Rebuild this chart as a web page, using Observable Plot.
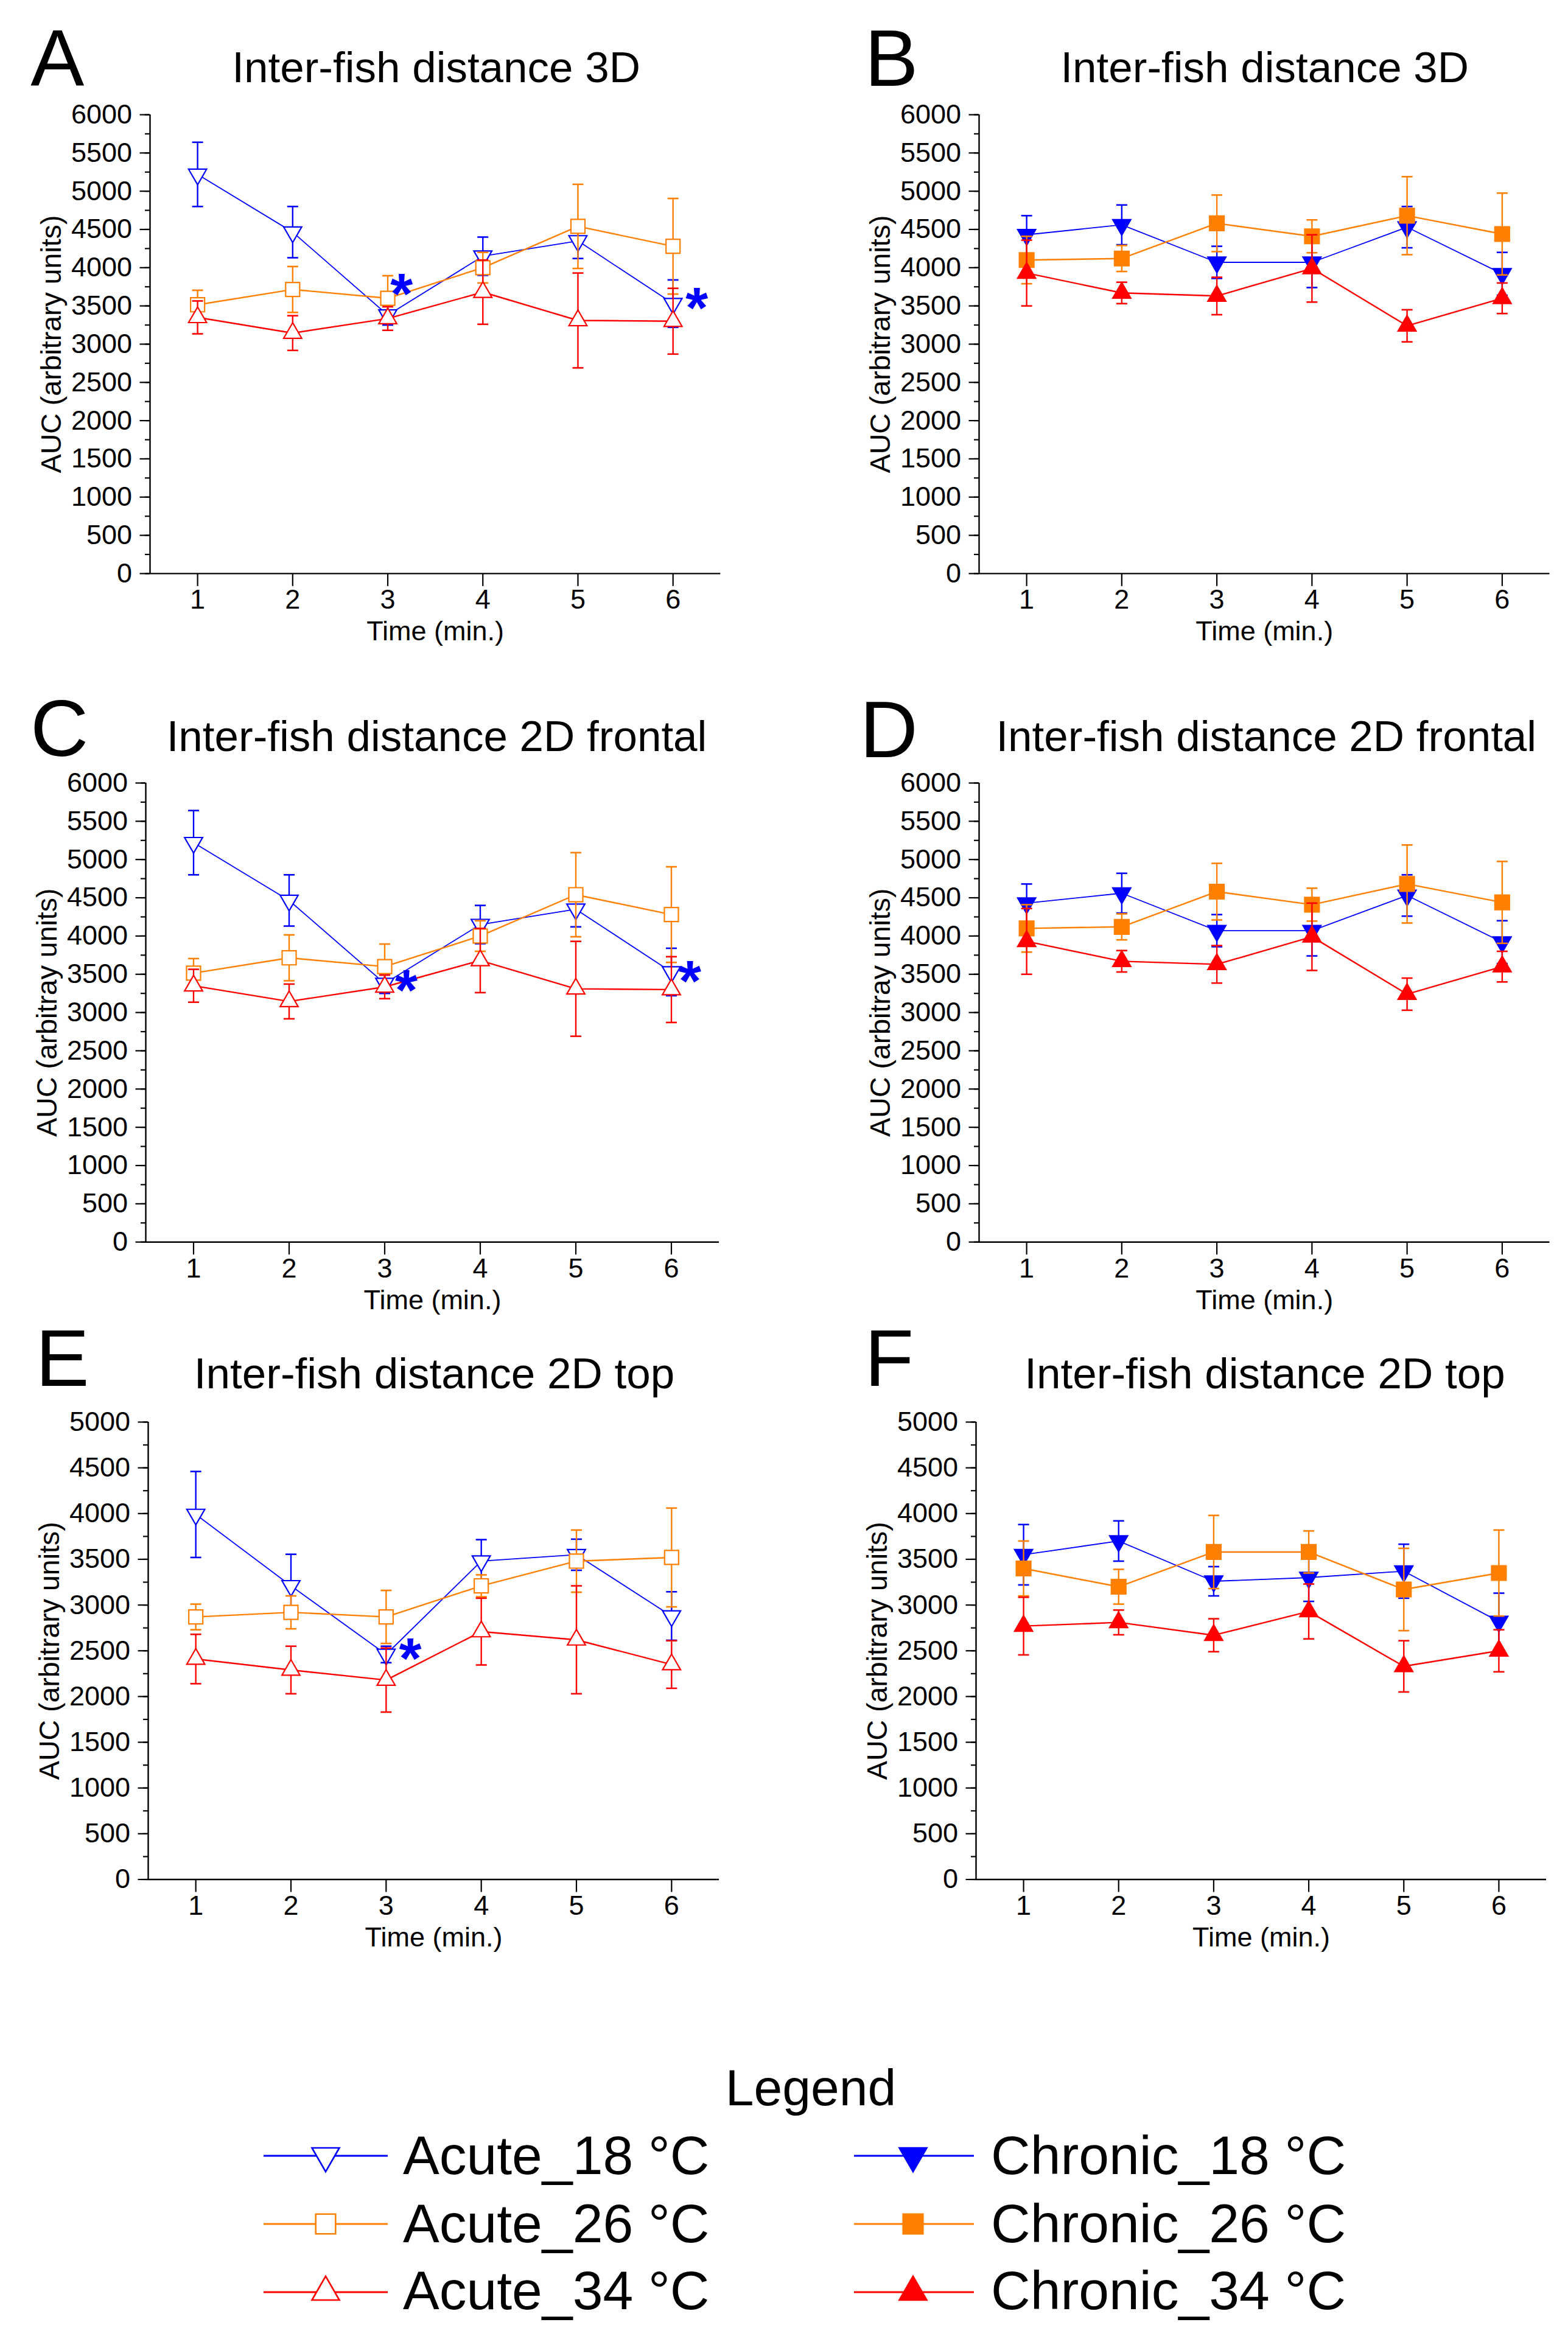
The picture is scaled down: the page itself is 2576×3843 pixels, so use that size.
<!DOCTYPE html>
<html><head><meta charset="utf-8">
<script src="https://cdn.jsdelivr.net/npm/d3@7"></script>
<script src="https://cdn.jsdelivr.net/npm/@observablehq/plot@0.6"></script>
<style>
html,body{margin:0;padding:0;background:#fff;}
#page{position:relative;width:2576px;height:3843px;background:#fff;overflow:hidden;font-family:'Liberation Sans',Arial,sans-serif;}
#page svg{position:absolute;max-width:none;}
</style></head><body><div id="page"></div>
<script>
// ---------- data ----------
const time = [1, 2, 3, 4, 5, 6];
const xTickLabels = ["1", "2", "3", "4", "5", "6"];
const yMajor6000 = [0, 500, 1000, 1500, 2000, 2500, 3000, 3500, 4000, 4500, 5000, 5500, 6000];
const yMajor5000 = [0, 500, 1000, 1500, 2000, 2500, 3000, 3500, 4000, 4500, 5000];
const seriesNames = ["Acute_18 °C", "Acute_26 °C", "Acute_34 °C", "Chronic_18 °C", "Chronic_26 °C", "Chronic_34 °C"];
const panelTitles = ["Inter-fish distance 3D", "Inter-fish distance 3D", "Inter-fish distance 2D frontal", "Inter-fish distance 2D frontal", "Inter-fish distance 2D top", "Inter-fish distance 2D top"];
const panelLetters = ["A", "B", "C", "D", "E", "F"];
const yLabels = ["AUC (arbitrary units)", "AUC (arbitrary units)", "AUC (arbitray units)", "AUC (arbitray units)", "AUC (arbitrary units)", "AUC (arbitrary units)"];
const xLabel = "Time (min.)";
const legendTitle = "Legend";

// Panel A: acute, 3D
const acute3D_18 = [5220, 4465, 3380, 4150, 4350, 3530];
const acute3D_18_sem = [420, 335, 130, 250, 230, 310];
const acute3D_26 = [3515, 3715, 3600, 4000, 4540, 4280];
const acute3D_26_sem = [190, 300, 295, 200, 550, 625];
const acute3D_34 = [3350, 3145, 3335, 3680, 3310, 3300];
const acute3D_34_sem = [215, 227, 154, 420, 620, 430];
// Panel B: chronic, 3D
const chronic3D_18 = [4430, 4560, 4070, 4070, 4530, 3920];
const chronic3D_18_sem = [250, 260, 210, 330, 270, 280];
const chronic3D_26 = [4100, 4120, 4580, 4410, 4680, 4440];
const chronic3D_26_sem = [310, 170, 370, 215, 510, 535];
const chronic3D_34 = [3930, 3670, 3630, 3990, 3240, 3600];
const chronic3D_34_sem = [430, 140, 245, 440, 210, 200];
// Panel C: acute, 2D frontal
const acute2Df_18 = [5220, 4465, 3380, 4150, 4350, 3530];
const acute2Df_18_sem = [420, 335, 130, 250, 230, 310];
const acute2Df_26 = [3515, 3715, 3600, 4000, 4540, 4280];
const acute2Df_26_sem = [190, 300, 295, 200, 550, 625];
const acute2Df_34 = [3350, 3145, 3335, 3680, 3310, 3300];
const acute2Df_34_sem = [215, 227, 154, 420, 620, 430];
// Panel D: chronic, 2D frontal
const chronic2Df_18 = [4430, 4560, 4070, 4070, 4530, 3920];
const chronic2Df_18_sem = [250, 260, 210, 330, 270, 280];
const chronic2Df_26 = [4100, 4120, 4580, 4410, 4680, 4440];
const chronic2Df_26_sem = [310, 170, 370, 215, 510, 535];
const chronic2Df_34 = [3930, 3670, 3630, 3990, 3240, 3600];
const chronic2Df_34_sem = [430, 140, 245, 440, 210, 200];
// Panel E: acute, 2D top
const acute2Dt_18 = [3990, 3210, 2460, 3480, 3550, 2880];
const acute2Dt_18_sem = [470, 345, 90, 235, 170, 265];
const acute2Dt_26 = [2870, 2920, 2870, 3210, 3480, 3520];
const acute2Dt_26_sem = [140, 180, 290, 120, 340, 540];
const acute2Dt_34 = [2410, 2290, 2180, 2710, 2620, 2350];
const acute2Dt_34_sem = [270, 260, 350, 365, 590, 260];
// Panel F: chronic, 2D top
const chronic2Dt_18 = [3550, 3700, 3260, 3300, 3370, 2820];
const chronic2Dt_18_sem = [330, 220, 160, 260, 295, 310];
const chronic2Dt_26 = [3400, 3200, 3580, 3580, 3170, 3350];
const chronic2Dt_26_sem = [300, 190, 400, 230, 450, 470];
const chronic2Dt_34 = [2770, 2810, 2670, 2930, 2330, 2500];
const chronic2Dt_34_sem = [315, 135, 180, 300, 280, 230];

// significance asterisks [time, value]
const starsA = [[3.145, 3816], [6.25, 3633]];
const starsC = [[3.226, 3454], [6.195, 3577]];
const starsE = [[3.254, 2554]];

// ---------- styles ----------
const BLUE = "#0000ff", ORANGE = "#ff8000", RED = "#ff0000";
const FONT = "'Liberation Sans', Arial, Helvetica, sans-serif";

const triDown = {draw(ctx, size) {
  const y = -Math.sqrt(size / (3 * Math.sqrt(3)));
  ctx.moveTo(0, -2 * y); ctx.lineTo(-Math.sqrt(3) * y, y); ctx.lineTo(Math.sqrt(3) * y, y); ctx.closePath();
}};
const triUp = {draw(ctx, size) {
  const y = -Math.sqrt(size / (3 * Math.sqrt(3)));
  ctx.moveTo(0, 2 * y); ctx.lineTo(-Math.sqrt(3) * y, -y); ctx.lineTo(Math.sqrt(3) * y, -y); ctx.closePath();
}};
const squareSym = {draw(ctx, size) { const w = Math.sqrt(size) / 2; ctx.rect(-w, -w, 2 * w, 2 * w); }};
const capSym = {draw(ctx, size) { const w = Math.sqrt(size / Math.PI); ctx.moveTo(-w, 0); ctx.lineTo(w, 0); }};

function rows(mean, sem) { return time.map((t, i) => ({t, m: mean[i], lo: mean[i] - sem[i], hi: mean[i] + sem[i]})); }

const acuteStyle = [
  {color: BLUE, symbol: triDown, r: 11, fill: "white", lw: 1.8},
  {color: ORANGE, symbol: squareSym, r: 13, fill: "white", lw: 2.4},
  {color: RED, symbol: triUp, r: 11, fill: "white", lw: 2.4}
];
const chronicStyle = [
  {color: BLUE, symbol: triDown, r: 11, fill: BLUE, lw: 1.8},
  {color: ORANGE, symbol: squareSym, r: 13.5, fill: ORANGE, lw: 2.4},
  {color: RED, symbol: triUp, r: 11, fill: RED, lw: 2.4}
];

const panels = [
  {frame: [245.7, 1183, 187.6, 941.5], ymax: 6000, ticks: yMajor6000, letterPos: [49.5, 140], titleBase: 134.4, titleDx: 1.5,
   series: [[acute3D_18, acute3D_18_sem], [acute3D_26, acute3D_26_sem], [acute3D_34, acute3D_34_sem]], style: acuteStyle, stars: starsA},
  {frame: [1608, 2545.5, 187.6, 941.5], ymax: 6000, ticks: yMajor6000, letterPos: [1420, 140], titleBase: 134.4, titleDx: 0.5,
   series: [[chronic3D_18, chronic3D_18_sem], [chronic3D_26, chronic3D_26_sem], [chronic3D_34, chronic3D_34_sem]], style: chronicStyle, stars: []},
  {frame: [239, 1181, 1285.5, 2039.7], ymax: 6000, ticks: yMajor6000, letterPos: [49.5, 1241], titleBase: 1233, titleDx: 7,
   series: [[acute2Df_18, acute2Df_18_sem], [acute2Df_26, acute2Df_26_sem], [acute2Df_34, acute2Df_34_sem]], style: acuteStyle, stars: starsC},
  {frame: [1608, 2545.5, 1285.5, 2039.7], ymax: 6000, ticks: yMajor6000, letterPos: [1412, 1243], titleBase: 1233, titleDx: 3,
   series: [[chronic2Df_18, chronic2Df_18_sem], [chronic2Df_26, chronic2Df_26_sem], [chronic2Df_34, chronic2Df_34_sem]], style: chronicStyle, stars: []},
  {frame: [243, 1181, 2335.5, 3087], ymax: 5000, ticks: yMajor5000, letterPos: [58, 2276], titleBase: 2279.5, titleDx: 1,
   series: [[acute2Dt_18, acute2Dt_18_sem], [acute2Dt_26, acute2Dt_26_sem], [acute2Dt_34, acute2Dt_34_sem]], style: acuteStyle, stars: starsE},
  {frame: [1603, 2540, 2335.5, 3087], ymax: 5000, ticks: yMajor5000, letterPos: [1420, 2276], titleBase: 2279.5, titleDx: 6,
   series: [[chronic2Dt_18, chronic2Dt_18_sem], [chronic2Dt_26, chronic2Dt_26_sem], [chronic2Dt_34, chronic2Dt_34_sem]], style: chronicStyle, stars: []}
];

const page = document.getElementById("page");
const ml = 230, mr = 40, mt = 170, mb = 140;

panels.forEach((p, k) => {
  const [x0, x1, yT, yB] = p.frame;
  const minor = d3.range(0, p.ymax + 1, 250);
  const marks = [
    Plot.axisY(minor, {tickSize: 8, fill: "none", strokeWidth: 2.2, label: null}),
    Plot.axisY(p.ticks, {tickSize: 16.5, tickPadding: 13, fontSize: 45, tickFormat: d => String(d), strokeWidth: 2.2, label: null}),
    Plot.axisX(time, {tickSize: 21, tickPadding: 5, fontSize: 45, tickFormat: d => xTickLabels[time.indexOf(d)], strokeWidth: 2.2, label: null}),
    Plot.ruleX([0.5], {strokeWidth: 2.4}),
    Plot.ruleY([0], {strokeWidth: 2.4})
  ];
  p.series.forEach(([mean, sem], j) => {
    const s = p.style[j];
    const data = rows(mean, sem);
    marks.push(
      Plot.line(data, {x: "t", y: "m", stroke: s.color, strokeWidth: s.lw}),
      Plot.ruleX(data, {x: "t", y1: "lo", y2: "hi", stroke: s.color, strokeWidth: 2.4}),
      Plot.dot(data, {x: "t", y: "hi", symbol: capSym, r: 9, stroke: s.color, strokeWidth: 2.6, fill: "none"}),
      Plot.dot(data, {x: "t", y: "lo", symbol: capSym, r: 9, stroke: s.color, strokeWidth: 2.6, fill: "none"}),
      Plot.dot(data, {x: "t", y: "m", symbol: s.symbol, r: s.r, stroke: s.color, strokeWidth: 2.2, fill: s.fill})
    );
  });
  if (p.stars.length) {
    marks.push(Plot.text(p.stars, {x: d => d[0], y: d => d[1], text: () => "*", fill: BLUE, fontSize: 95, fontWeight: "bold", lineAnchor: "top", dy: -15}));
  }
  marks.push(
    Plot.text([panelLetters[k]], {frameAnchor: "top-left", textAnchor: "start", lineAnchor: "bottom", fontSize: 132, dx: p.letterPos[0] - x0, dy: p.letterPos[1] - yT, fill: "black"}),
    Plot.text([panelTitles[k]], {frameAnchor: "top", textAnchor: "middle", lineAnchor: "bottom", fontSize: 71, dx: p.titleDx, dy: p.titleBase - yT, fill: "black"}),
    Plot.text([xLabel], {frameAnchor: "bottom", textAnchor: "middle", lineAnchor: "bottom", fontSize: 45, dy: 110, fill: "black"}),
    Plot.text([yLabels[k]], {frameAnchor: "left", textAnchor: "middle", lineAnchor: "middle", rotate: -90, fontSize: 46.5, dx: -161, fill: "black"})
  );
  const svg = Plot.plot({
    width: (x1 - x0) + ml + mr, height: (yB - yT) + mt + mb,
    marginLeft: ml, marginRight: mr, marginTop: mt, marginBottom: mb,
    x: {type: "linear", domain: [0.5, 6.5]},
    y: {type: "linear", domain: [0, p.ymax]},
    style: {fontFamily: FONT, background: "transparent", overflow: "visible", color: "black"},
    marks
  });
  svg.style.left = (x0 - ml) + "px";
  svg.style.top = (yT - mt) + "px";
  page.appendChild(svg);
});

// ---------- legend ----------
const legTop = 3300;
const leg = d3.create("svg").attr("width", 2576).attr("height", 3843 - legTop)
  .style("left", "0px").style("top", legTop + "px").style("position", "absolute")
  .style("font-family", FONT);
leg.append("text").attr("x", 1332).attr("y", 3459 - legTop).attr("text-anchor", "middle")
  .attr("font-size", 84).attr("fill", "black").text(legendTitle);
const legRowsLine = [3542, 3654, 3766];
const legRowsText = [3572, 3684, 3794];
const legCols = [{x0: 433, x1: 637, mx: 535, tx: 662}, {x0: 1403, x1: 1600, mx: 1500, tx: 1628}];
const legSym = [
  (fill, c) => ({type: triDown, size: 880, fill, c}),
  (fill, c) => ({type: squareSym, size: 1060, fill, c}),
  (fill, c) => ({type: triUp, size: 880, fill, c})
];
const legColors = [BLUE, ORANGE, RED];
seriesNames.forEach((name, i) => {
  const col = legCols[Math.floor(i / 3)], row = i % 3;
  const c = legColors[row];
  const filled = i >= 3;
  const y = legRowsLine[row];
  leg.append("line").attr("x1", col.x0).attr("x2", col.x1).attr("y1", y - legTop).attr("y2", y - legTop)
    .attr("stroke", c).attr("stroke-width", 3.2);
  const sym = legSym[row](filled ? c : "white", c);
  leg.append("path").attr("d", d3.symbol().type(sym.type).size(sym.size)())
    .attr("transform", `translate(${col.mx},${y - legTop})`)
    .attr("fill", sym.fill).attr("stroke", c).attr("stroke-width", 2.6);
  leg.append("text").attr("x", col.tx).attr("y", legRowsText[row] - legTop).attr("font-size", 89.5)
    .attr("fill", "black").text(name);
});
page.appendChild(leg.node());
</script></body></html>
